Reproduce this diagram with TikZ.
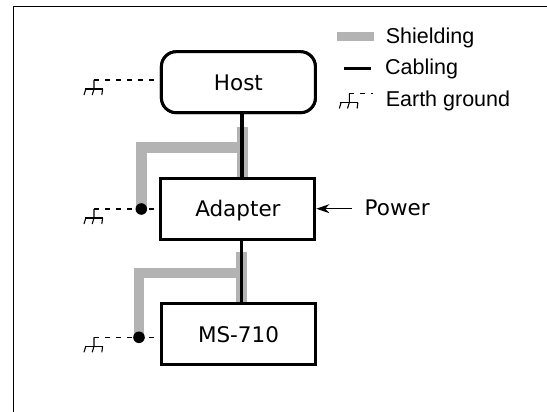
\documentclass[tikz,border=0pt]{standalone}
\usepackage{fontspec}
\setmainfont{DejaVu Sans}
\newfontfamily\legendfont{Liberation Sans}
\usetikzlibrary{arrows.meta}
\definecolor{shieldgray}{RGB}{179,179,179}
\tikzset{
  devbox/.style={draw=black, line width=3pt, minimum width=154pt, minimum height=61pt,
    inner sep=0pt, font=\fontsize{21.5}{26}\selectfont, text height=15.7pt, text depth=0pt},
  shield/.style={draw=shieldgray, line width=10.4pt, line cap=butt, line join=miter},
  cable/.style={draw=black, line width=3.5pt},
  gndline/.style={draw=black, line width=1.6pt, dash pattern=on 5pt off 6pt},
  legendtext/.style={anchor=base west, inner sep=0pt, font=\legendfont\fontsize{21.5}{26}\selectfont},
  earthgnd/.pic={
    \draw[line width=1.1pt] (0,0) -- (0,9) -- (-1.8,15);
    \draw[line width=1.1pt] (-9,9) -- (9,9);
    \draw[line width=1.1pt] (-8.2,9) -- (-10,15);
    \draw[line width=1.1pt] (8.6,9) -- (7.8,15);
  }
}
\begin{document}
\begin{tikzpicture}[x=1pt,y=-1pt]
\useasboundingbox (0,0) rectangle (547,412);
% frame
\draw[line width=1.6pt] (13.3,412) -- (13.3,6.7) -- (547,6.7);

% nodes
\node[devbox, rounded corners=15pt] (host) at (238.4,82.2) {Host};
\node[devbox] (adapter) at (237.9,208.7) {Adapter};
\node[devbox] (ms) at (238.5,334.2) {MS-710};

% shielding
\draw[shield] (141.5,209) -- (141.5,147.7) -- (248,147.7);
\draw[shield] (242.5,127.5) -- (242.5,0 |- adapter.north);
\draw[shield] (139,337.3) -- (139,273) -- (246.8,273);
\draw[shield] (241.6,252) -- (241.6,0 |- ms.north);

% cables
\draw[cable] (242,0 |- host.south) -- (242,0 |- adapter.north);
\draw[cable] (241.6,0 |- adapter.south) -- (241.6,0 |- ms.north);

% redraw boxes on top
\node[devbox, rounded corners=15pt, fill=white] at (host) {Host};
\node[devbox, fill=white] at (adapter) {Adapter};
\node[devbox, fill=white] at (ms) {MS-710};

% earth grounds
\coordinate (g1) at (94,80);
\coordinate (g2) at (94,209);
\coordinate (g3) at (94,337.3);
\coordinate (d2) at (141.3,209);
\coordinate (d3) at (139,337.3);
\draw[gndline] (g1) -- (g1 -| host.west);
\draw[gndline] (g2) -- (g2 -| adapter.west);
\draw[gndline] (g3) -- (g3 -| ms.west);
\pic at (g1) {earthgnd};
\pic at (g2) {earthgnd};
\pic at (g3) {earthgnd};
\fill (d2) circle (5.8pt);
\fill (d3) circle (5.8pt);

% power
\node[anchor=base west, inner sep=0pt, font=\fontsize{21.5}{26}\selectfont] (power) at (364.5,215.7) {Power};
\coordinate (pwtail) at (352,208.7);
\draw[line width=1.1pt, -{Stealth[length=13pt,width=9pt]}] (pwtail) -- (adapter.east);

% legend
\fill[shieldgray] (336.7,31.7) rectangle (374,41);
\node[legendtext] (lshield) at (385.6,43.3) {Shielding};
\coordinate (lc1) at (344,69);
\coordinate (lc2) at (370.7,69);
\draw[line width=3pt] (lc1) -- (lc2);
\node[legendtext] (lcable) at (385,75) {Cabling};
\coordinate (lg) at (349.3,93.5);
\coordinate (lgend) at (373,93.5);
\draw[gndline] (lg) -- (lgend);
\pic at (lg) {earthgnd};
\node[legendtext] (lground) at (385.6,106.7) {Earth ground};
\end{tikzpicture}
\end{document}
